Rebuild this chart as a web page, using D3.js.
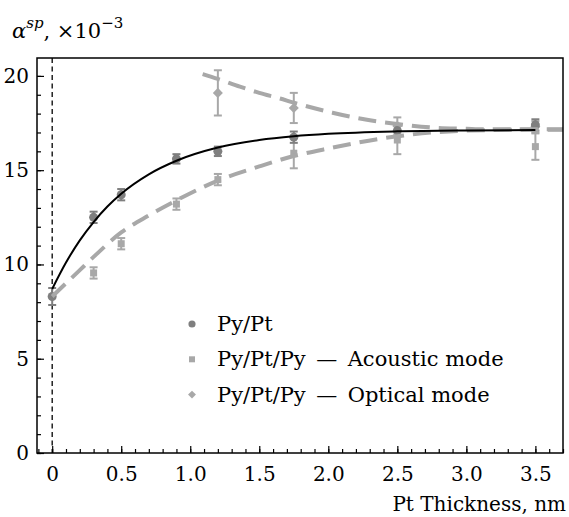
<!DOCTYPE html>
<html lang="en">
<head>
<meta charset="utf-8">
<script src="https://d3js.org/d3.v7.min.js"></script>
<style>
	body, html { margin: 0; padding: 0; background: #fff; }
	svg text { font-family: "DejaVu Serif", serif; }
</style>
</head>
<body>
<div id="chart"></div>
<script>
// measured points
var pyPtX = [0, 0.3, 0.5, 0.9, 1.2, 1.75, 2.5, 3.5]
var pyPtY = [8.3, 12.5, 13.7, 15.6, 16.0, 16.75, 17.1, 17.4]
var pyPtErr = [0.45, 0.3, 0.3, 0.25, 0.25, 0.3, 0.3, 0.3]

var acX = [0.3, 0.5, 0.9, 1.2, 1.75, 2.5, 3.5]
var acY = [9.55, 11.1, 13.2, 14.5, 15.9, 16.6, 16.25]
var acErr = [0.3, 0.3, 0.3, 0.3, 0.8, 0.75, 0.7]

var opX = [1.2, 1.75, 2.5, 3.5]
var opY = [19.1, 18.3, 17.35, 17.3]
var opErr = [1.2, 0.8, 0.45, 0.3]

// fit curves
var fitPyPtX = [0, 0.1, 0.2, 0.3, 0.4, 0.5, 0.7, 0.9, 1.2, 1.5, 1.75, 2.0, 2.5, 3.0, 3.5]
var fitPyPtY = [8.7, 10.1, 11.28, 12.25, 13.07, 13.75, 14.78, 15.5, 16.2, 16.6, 16.8, 16.93, 17.06, 17.11, 17.13]

var fitAcX = [0, 0.1, 0.2, 0.3, 0.5, 0.7, 0.9, 1.2, 1.5, 1.75, 2.0, 2.5, 3.0, 3.5, 3.75]
var fitAcY = [8.3, 9.0, 9.7, 10.4, 11.7, 12.6, 13.4, 14.45, 15.2, 15.75, 16.15, 16.8, 17.1, 17.15, 17.15]

var fitOpX = [1.09, 1.2, 1.36, 1.5, 1.65, 1.75, 2.03, 2.28, 2.5, 2.76, 3.0, 3.12, 3.5, 3.75]
var fitOpY = [20.1, 19.84, 19.43, 19.1, 18.8, 18.58, 18.05, 17.67, 17.45, 17.26, 17.2, 17.17, 17.17, 17.17]

var xTicks = [0, 0.5, 1.0, 1.5, 2.0, 2.5, 3.0, 3.5]
var xTickLabels = ["0", "0.5", "1.0", "1.5", "2.0", "2.5", "3.0", "3.5"]
var yTicks = [0, 5, 10, 15, 20]
var yTickLabels = ["0", "5", "10", "15", "20"]

var legendLabels = ["Py/Pt", "Py/Pt/Py\u2002\u2014\u2002Acoustic mode", "Py/Pt/Py\u2002\u2014\u2002Optical mode"]

var dark = "#7f7f7f"
var light = "#a8a8a8"
var font = "DejaVu Serif"

var svg = d3.select("#chart").append("svg")
	.attr("width", 569)
	.attr("height", 517)
var margin = {top: 58, right: 6, bottom: 64, left: 37}
var w = 569 - margin.left - margin.right
var h = 517 - margin.top - margin.bottom

var xScale = d3.scaleLinear().domain([-0.11, 3.7]).range([0, w])
var yScale = d3.scaleLinear().domain([0, 20.95]).range([h, 0])

var g = svg.append("g")
	.attr("transform", "translate(" + margin.left + "," + margin.top + ")")

svg.append("defs").append("clipPath").attr("id", "clip")
	.append("rect").attr("width", w).attr("height", h)

// axes (ticks pointing inward)
var minorX = d3.range(-1, 38).map(i => i / 10)
var minorY = d3.range(0, 21)

g.append("g")
	.attr("transform", "translate(0," + h + ")")
	.call(d3.axisBottom(xScale).tickValues(minorX).tickSize(-4).tickFormat(""))
g.append("g")
	.attr("transform", "translate(0," + h + ")")
	.call(d3.axisBottom(xScale).tickValues(xTicks).tickSize(-7).tickPadding(14)
		.tickFormat((d, i) => xTickLabels[i]))
g.append("g")
	.call(d3.axisLeft(yScale).tickValues(minorY).tickSize(-4).tickFormat(""))
g.append("g")
	.call(d3.axisLeft(yScale).tickValues(yTicks).tickSize(-7).tickPadding(8)
		.tickFormat((d, i) => yTickLabels[i]))

g.selectAll(".domain").remove()
g.selectAll(".tick line").attr("stroke", "#000").attr("stroke-width", 1.2)
g.selectAll(".tick text")
	.attr("font-family", font)
	.attr("font-size", 20)
	.attr("fill", "#000")

// vertical dashed line at zero
g.append("line")
	.attr("x1", xScale(0)).attr("x2", xScale(0))
	.attr("y1", 0).attr("y2", h)
	.attr("stroke", "#000")
	.attr("stroke-width", 1.3)
	.attr("stroke-dasharray", "5,3.5")

// error bars
var drawErr = function (xs, ys, errs, color) {
	xs.forEach((x, i) => {
		var cx = xScale(x), top = yScale(ys[i] + errs[i]), bot = yScale(ys[i] - errs[i])
		g.append("line").attr("x1", cx).attr("x2", cx).attr("y1", top).attr("y2", bot)
			.attr("stroke", color).attr("stroke-width", 2)
		;[top, bot].forEach(y => {
			g.append("line").attr("x1", cx - 4).attr("x2", cx + 4).attr("y1", y).attr("y2", y)
				.attr("stroke", color).attr("stroke-width", 2)
		})
	})
}
drawErr(acX, acY, acErr, light)
drawErr(opX, opY, opErr, light)
drawErr(pyPtX, pyPtY, pyPtErr, dark)

g.selectAll("path.sq")
	.data(acX)
	.enter().append("path")
	.attr("class", "sq")
	.attr("transform", (d, i) => "translate(" + xScale(d) + "," + yScale(acY[i]) + ")")
	.attr("d", d3.symbol(d3.symbolSquare, 49)())
	.attr("fill", light)

g.selectAll("path.dm")
	.data(opX)
	.enter().append("path")
	.attr("class", "dm")
	.attr("transform", (d, i) => "translate(" + xScale(d) + "," + yScale(opY[i]) + ")")
	.attr("d", d3.symbol(d3.symbolDiamond2, 64)())
	.attr("fill", light)

g.selectAll("circle.pt")
	.data(pyPtX)
	.enter().append("circle")
	.attr("class", "pt")
	.attr("cx", d => xScale(d))
	.attr("cy", (d, i) => yScale(pyPtY[i]))
	.attr("r", 4.5)
	.attr("fill", dark)

// fit curves
var line = d3.line()
	.x(d => xScale(d[0]))
	.y(d => yScale(d[1]))
	.curve(d3.curveMonotoneX)

var curves = g.append("g").attr("clip-path", "url(#clip)")
curves.append("path")
	.attr("d", line(fitAcX.map((x, i) => [x, fitAcY[i]])))
	.attr("fill", "none")
	.attr("stroke", light)
	.attr("stroke-width", 4)
	.attr("stroke-dasharray", "18,9")
curves.append("path")
	.attr("d", line(fitOpX.map((x, i) => [x, fitOpY[i]])))
	.attr("fill", "none")
	.attr("stroke", light)
	.attr("stroke-width", 4)
	.attr("stroke-dasharray", "18,9")
curves.append("path")
	.attr("d", line(fitPyPtX.map((x, i) => [x, fitPyPtY[i]])))
	.attr("fill", "none")
	.attr("stroke", "#000")
	.attr("stroke-width", 2)

// frame
g.append("rect")
	.attr("width", w).attr("height", h)
	.attr("fill", "none")
	.attr("stroke", "#000")
	.attr("stroke-width", 1.5)

// legend
var legendSymbols = [d3.symbolCircle, d3.symbolSquare, d3.symbolDiamond2]
var legendSizes = [40, 36, 40]
var legendColors = [dark, light, light]
legendLabels.forEach((label, i) => {
	var y = 324 + i * 35.3
	svg.append("path")
		.attr("transform", "translate(192," + y + ")")
		.attr("d", d3.symbol(legendSymbols[i], legendSizes[i])())
		.attr("fill", legendColors[i])
	svg.append("text")
		.attr("x", 217)
		.attr("y", y + 7)
		.attr("font-size", 21)
		.text(label)
})

// axis titles
var title = svg.append("text")
	.attr("x", 12)
	.attr("y", 38)
	.attr("font-size", 21)
title.append("tspan").attr("font-style", "italic").text("\u03b1")
title.append("tspan").attr("font-style", "italic").attr("font-size", 15).attr("dy", -10).text("sp")
title.append("tspan").attr("dy", 10).text(", \u00d710")
title.append("tspan").attr("font-size", 15).attr("dy", -10).text("\u22123")

svg.append("text")
	.attr("x", 566)
	.attr("y", 511)
	.attr("text-anchor", "end")
	.attr("font-size", 20)
	.text("Pt Thickness, nm")
</script>
</body>
</html>
